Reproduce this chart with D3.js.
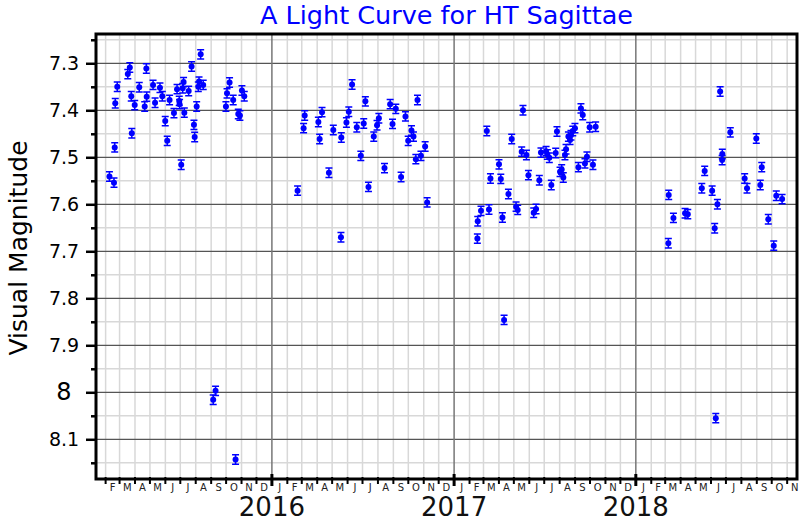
<!DOCTYPE html>
<html>
<head>
<meta charset="utf-8">
<script src="https://cdn.jsdelivr.net/npm/d3@7"></script>
<style>
  body { margin: 0; background: #fff; }
  svg { display: block; font-family: "DejaVu Sans", sans-serif; }
</style>
</head>
<body>
<div id="chart"></div>
<script>
var width = 800,
    height = 520,
    plotLeft = 96, plotRight = 797, plotTop = 34, plotBottom = 479;

// [epoch (decimal year), visual magnitude], one array per observing season
var season2015 = [
  [2015.106, 7.541], [2015.131, 7.554], [2015.135, 7.479], [2015.138, 7.385], [2015.149, 7.350],
  [2015.207, 7.323], [2015.218, 7.309], [2015.226, 7.370], [2015.229, 7.449], [2015.245, 7.389],
  [2015.270, 7.351], [2015.300, 7.392], [2015.309, 7.311], [2015.311, 7.371], [2015.346, 7.346],
  [2015.357, 7.384], [2015.384, 7.352], [2015.397, 7.370], [2015.413, 7.423], [2015.424, 7.465],
  [2015.437, 7.378], [2015.461, 7.406], [2015.478, 7.355], [2015.490, 7.380], [2015.492, 7.387],
  [2015.501, 7.516], [2015.509, 7.353], [2015.514, 7.340], [2015.518, 7.405], [2015.542, 7.359],
  [2015.558, 7.307], [2015.571, 7.431], [2015.575, 7.457], [2015.586, 7.392], [2015.595, 7.350],
  [2015.599, 7.339], [2015.608, 7.281], [2015.622, 7.346], [2015.677, 8.016], [2015.690, 7.997],
  [2015.747, 7.392], [2015.753, 7.364], [2015.767, 7.341], [2015.787, 7.378], [2015.800, 8.143],
  [2015.815, 7.408], [2015.824, 7.411], [2015.835, 7.358], [2015.848, 7.370]
];

var season2016 = [
  [2016.141, 7.571], [2016.174, 7.438], [2016.180, 7.411], [2016.255, 7.425], [2016.262, 7.461],
  [2016.275, 7.404], [2016.313, 7.533], [2016.337, 7.442], [2016.379, 7.670], [2016.381, 7.458],
  [2016.409, 7.426], [2016.422, 7.403], [2016.440, 7.345], [2016.466, 7.436], [2016.488, 7.497],
  [2016.504, 7.428], [2016.513, 7.381], [2016.530, 7.563], [2016.559, 7.456], [2016.577, 7.432],
  [2016.587, 7.417], [2016.618, 7.523], [2016.649, 7.387], [2016.662, 7.429], [2016.680, 7.397],
  [2016.709, 7.542], [2016.733, 7.413], [2016.748, 7.465], [2016.766, 7.443], [2016.777, 7.456],
  [2016.790, 7.504], [2016.799, 7.378], [2016.818, 7.497], [2016.841, 7.477], [2016.852, 7.596]
];

var season2017 = [
  [2017.128, 7.673], [2017.130, 7.636], [2017.148, 7.614], [2017.180, 7.444], [2017.192, 7.611],
  [2017.200, 7.545], [2017.247, 7.515], [2017.257, 7.546], [2017.266, 7.628], [2017.275, 7.846],
  [2017.299, 7.578], [2017.317, 7.461], [2017.341, 7.605], [2017.350, 7.612], [2017.372, 7.488],
  [2017.379, 7.400], [2017.398, 7.495], [2017.409, 7.538], [2017.438, 7.618], [2017.451, 7.610],
  [2017.469, 7.549], [2017.478, 7.490], [2017.506, 7.487], [2017.513, 7.494], [2017.524, 7.501],
  [2017.535, 7.559], [2017.559, 7.491], [2017.566, 7.445], [2017.583, 7.531], [2017.592, 7.526],
  [2017.601, 7.543], [2017.610, 7.495], [2017.616, 7.483], [2017.629, 7.456], [2017.638, 7.463],
  [2017.643, 7.453], [2017.653, 7.444], [2017.665, 7.438], [2017.684, 7.521], [2017.698, 7.396],
  [2017.708, 7.410], [2017.720, 7.513], [2017.731, 7.499], [2017.746, 7.436], [2017.764, 7.516],
  [2017.779, 7.435]
];

var season2018 = [
  [2018.179, 7.683], [2018.181, 7.580], [2018.207, 7.629], [2018.271, 7.619], [2018.286, 7.621],
  [2018.363, 7.566], [2018.379, 7.529], [2018.420, 7.571], [2018.434, 7.651], [2018.440, 8.055],
  [2018.449, 7.600], [2018.464, 7.360], [2018.475, 7.506], [2018.476, 7.493], [2018.520, 7.447],
  [2018.599, 7.545], [2018.612, 7.566], [2018.663, 7.460], [2018.685, 7.559], [2018.693, 7.521],
  [2018.729, 7.632], [2018.759, 7.688], [2018.773, 7.582], [2018.805, 7.589]
];

var magErr = 0.01;
var yTicks = [7.3, 7.4, 7.5, 7.6, 7.7, 7.8, 7.9, 8.0, 8.1];
var yMinor = [7.25, 7.35, 7.45, 7.55, 7.65, 7.75, 7.85, 7.95, 8.05, 8.15];
var monthLetters = ["J", "F", "M", "A", "M", "J", "J", "A", "S", "O", "N", "D"];
var yearLabels = [2016, 2017, 2018];

var data = season2015.concat(season2016, season2017, season2018);

function yearToDate(t) {
  var yr = Math.floor(t),
      a = Date.UTC(yr, 0, 1),
      b = Date.UTC(yr + 1, 0, 1);
  return new Date(a + (t - yr) * (b - a));
}

var x = d3.scaleUtc()
    .domain([yearToDate(2015.032), yearToDate(2018.887)])
    .range([plotLeft, plotRight]);

var y = d3.scaleLinear()
    .domain([7.2377, 8.1845])
    .range([plotTop, plotBottom]);

var svg = d3.select("#chart").append("svg")
    .attr("width", width)
    .attr("height", height);

var months = d3.utcMonth.range(x.domain()[0], x.domain()[1]);
function isJan(d) { return d.getUTCMonth() === 0; }

// grid: light lines every month and every 0.05 mag
svg.append("g").selectAll("line")
    .data(months.filter(function(d) { return !isJan(d); }))
  .enter().append("line")
    .attr("x1", function(d) { return x(d); })
    .attr("x2", function(d) { return x(d); })
    .attr("y1", plotTop).attr("y2", plotBottom)
    .attr("stroke", "#d8d8d8").attr("stroke-width", 1.5);

svg.append("g").selectAll("line")
    .data(yMinor)
  .enter().append("line")
    .attr("x1", plotLeft).attr("x2", plotRight)
    .attr("y1", function(d) { return y(d); })
    .attr("y2", function(d) { return y(d); })
    .attr("stroke", "#d8d8d8").attr("stroke-width", 1.5);

svg.append("g").selectAll("line")
    .data(yTicks)
  .enter().append("line")
    .attr("x1", plotLeft).attr("x2", plotRight)
    .attr("y1", function(d) { return y(d); })
    .attr("y2", function(d) { return y(d); })
    .attr("stroke", "#555").attr("stroke-width", 1.2);

svg.append("g").selectAll("line")
    .data(months.filter(isJan))
  .enter().append("line")
    .attr("x1", function(d) { return x(d); })
    .attr("x2", function(d) { return x(d); })
    .attr("y1", plotTop).attr("y2", plotBottom)
    .attr("stroke", "#777").attr("stroke-width", 1.5);

// frame
svg.append("rect")
    .attr("x", plotLeft).attr("y", plotTop)
    .attr("width", plotRight - plotLeft).attr("height", plotBottom - plotTop)
    .attr("fill", "none")
    .attr("stroke", "#000").attr("stroke-width", 3);

// y axis ticks and labels
var yAxis = d3.axisLeft(y)
    .tickValues(yTicks)
    .tickSize(10)
    .tickFormat(d3.format(""));

var gy = svg.append("g")
    .attr("transform", "translate(" + plotLeft + ",0)")
    .call(yAxis);
gy.select(".domain").remove();
gy.selectAll(".tick line").attr("stroke-width", 2.5);
gy.selectAll(".tick text")
    .attr("x", -32)
    .attr("text-anchor", "middle")
    .attr("fill", "#000")
    .attr("font-family", "DejaVu Sans")
    .attr("font-size", function(d) { return d === 8 ? 24 : 19; });

var gyMinor = svg.append("g")
    .attr("transform", "translate(" + plotLeft + ",0)")
    .call(d3.axisLeft(y).tickValues(yMinor).tickSize(5).tickFormat(""));
gyMinor.select(".domain").remove();
gyMinor.selectAll(".tick line").attr("stroke-width", 2.5);

// x axis: month ticks, year ticks
svg.append("g").selectAll("line")
    .data(months)
  .enter().append("line")
    .attr("x1", function(d) { return x(d); })
    .attr("x2", function(d) { return x(d); })
    .attr("y1", function(d) { return isJan(d) ? plotBottom - 5 : plotBottom - 2; })
    .attr("y2", function(d) { return isJan(d) ? plotBottom + 7 : plotBottom + 5; })
    .attr("stroke", "#000")
    .attr("stroke-width", function(d) { return isJan(d) ? 3 : 2; });

svg.append("g").selectAll("text")
    .data(months)
  .enter().append("text")
    .attr("x", function(d) { return (x(d) + x(d3.utcMonth.offset(d, 1))) / 2; })
    .attr("y", 491)
    .attr("text-anchor", "middle")
    .attr("font-size", 10)
    .attr("fill", "#222")
    .text(function(d) { return monthLetters[d.getUTCMonth()]; });

svg.append("g").selectAll("text")
    .data(yearLabels)
  .enter().append("text")
    .attr("x", function(d) { return x(new Date(Date.UTC(d, 0, 1))); })
    .attr("y", 516)
    .attr("text-anchor", "middle")
    .attr("font-size", 26)
    .attr("fill", "#111")
    .text(function(d) { return d; });

// error bars and points
var pts = svg.append("g").selectAll("g")
    .data(data)
  .enter().append("g")
    .attr("transform", function(d) { return "translate(" + x(yearToDate(d[0])) + ",0)"; });

pts.append("path")
    .attr("d", function(d) {
      var y0 = y(d[1] - magErr), y1 = y(d[1] + magErr);
      return "M0," + y0 + "V" + y1 +
             "M-3.5," + y0 + "H3.5" +
             "M-3.5," + y1 + "H3.5";
    })
    .attr("stroke", "#0000ff")
    .attr("stroke-width", 1.5)
    .attr("fill", "none");

pts.append("circle")
    .attr("cy", function(d) { return y(d[1]); })
    .attr("r", 3)
    .attr("fill", "#0000ff");

// title & axis label
svg.append("text")
    .attr("x", (plotLeft + plotRight) / 2)
    .attr("y", 24)
    .attr("text-anchor", "middle")
    .attr("font-size", 25.5)
    .attr("fill", "#0000ff")
    .text("A Light Curve for HT Sagittae");

svg.append("text")
    .attr("transform", "translate(27,248) rotate(-90)")
    .attr("text-anchor", "middle")
    .attr("font-size", 25)
    .attr("fill", "#000")
    .text("Visual Magnitude");
</script>
</body>
</html>
